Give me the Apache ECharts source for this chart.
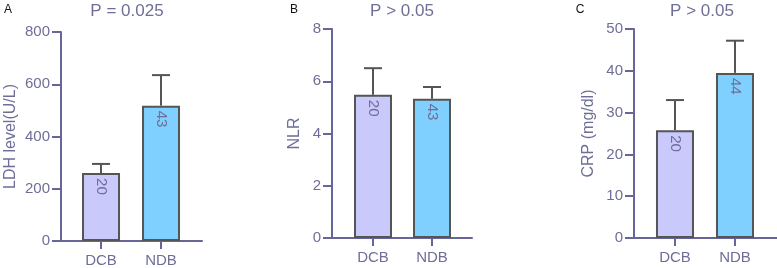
<!DOCTYPE html>
<html>
<head>
<meta charset="utf-8">
<script src="https://cdn.jsdelivr.net/npm/echarts@6/dist/echarts.min.js"></script>
<style>
  html, body { margin: 0; padding: 0; background: #fff; }
  #chart { width: 777px; height: 268px; }
</style>
</head>
<body>
<div id="chart"></div>
<script>
// groups on every panel
const categories = ['DCB', 'NDB'];

// panel A: LDH
const ldhMean = [260, 518];
const ldhErr = [35, 117];
const ldhN = [20, 43];
const ldhTicks = [0, 200, 400, 600, 800];

// panel B: NLR
const nlrMean = [5.48, 5.33];
const nlrErr = [1.02, 0.45];
const nlrN = [20, 43];
const nlrTicks = [0, 2, 4, 6, 8];

// panel C: CRP
const crpMean = [25.8, 39.5];
const crpErr = [7.2, 7.7];
const crpN = [20, 44];
const crpTicks = [0, 10, 20, 30, 40, 50];

const pTexts = ['P = 0.025', 'P > 0.05', 'P > 0.05'];
const letters = ['A', 'B', 'C'];
const yNames = ['LDH level(U/L)', 'NLR', 'CRP (mg/dl)'];

const textColor = '#6e6e98';
const axisColor = '#66669a';
const edgeColor = '#555555';
const barColors = ['#c9c9fb', '#80d0ff'];
const font = 'Liberation Sans, Arial, sans-serif';

// layout per panel
const panels = [
  { mean: ldhMean, err: ldhErr, n: ldhN, ticks: ldhTicks, left: 61, top: 32, width: 141, xmin: 0.333, xmax: 2.683, gap: 42, titleX: 127 },
  { mean: nlrMean, err: nlrErr, n: nlrN, ticks: nlrTicks, left: 332, top: 29, width: 140, xmin: 0.305, xmax: 2.678, gap: 29, titleX: 402 },
  { mean: crpMean, err: crpErr, n: crpN, ticks: crpTicks, left: 634, top: 29, width: 143, xmin: 0.317, xmax: 2.7, gap: 37, titleX: 702 }
];
const letterX = [8, 294, 580];

const grid = [], xAxis = [], yAxis = [], series = [], title = [];

panels.forEach((p, i) => {
  const ymax = p.ticks[p.ticks.length - 1];
  grid.push({ left: p.left, top: p.top, width: p.width, height: 209, containLabel: false });

  xAxis.push({
    type: 'value', gridIndex: i, min: p.xmin, max: p.xmax,
    splitLine: { show: false },
    axisLine: { show: true, onZero: false, lineStyle: { color: axisColor, width: 2 } },
    axisTick: { show: true, customValues: [1, 2], length: 8, lineStyle: { color: axisColor, width: 2 } },
    axisLabel: {
      show: true, customValues: [1, 2], formatter: v => categories[Math.round(v) - 1],
      color: textColor, fontSize: 15, fontFamily: font, margin: 12
    }
  });

  yAxis.push({
    type: 'value', gridIndex: i, min: 0, max: ymax, interval: p.ticks[1],
    name: yNames[i], nameLocation: 'middle', nameGap: p.gap,
    nameTextStyle: { color: textColor, fontSize: 16, fontFamily: font },
    splitLine: { show: false },
    axisLine: { show: true, onZero: false, lineStyle: { color: axisColor, width: 2 } },
    axisTick: { show: true, length: 9, lineStyle: { color: axisColor, width: 2 } },
    axisLabel: { show: true, color: textColor, fontSize: 15, fontFamily: font, margin: 11 }
  });

  series.push({
    type: 'bar', xAxisIndex: i, yAxisIndex: i, barWidth: 38,
    data: p.mean.map((v, k) => ({
      value: [k + 1, v],
      itemStyle: { color: barColors[k], borderColor: edgeColor, borderWidth: 2 },
      label: { formatter: String(p.n[k]) }
    })),
    label: {
      show: true, position: 'insideTop', distance: 5, rotate: -90,
      align: 'left', verticalAlign: 'middle',
      color: textColor, fontSize: 15, fontFamily: font
    },
    z: 3
  });

  // error bars (mean -> mean + err, with a cap)
  series.push({
    type: 'custom', xAxisIndex: i, yAxisIndex: i, z: 2,
    data: p.mean.map((v, k) => [k + 1, v, v + p.err[k]]),
    renderItem: (params, api) => {
      const base = api.coord([api.value(0), api.value(1)]);
      const top = api.coord([api.value(0), api.value(2)]);
      const style = { stroke: edgeColor, lineWidth: 2 };
      return {
        type: 'group',
        children: [
          { type: 'line', shape: { x1: base[0], y1: base[1], x2: top[0], y2: top[1] }, style },
          { type: 'line', shape: { x1: top[0] - 9, y1: top[1], x2: top[0] + 9, y2: top[1] }, style }
        ]
      };
    }
  });

  title.push({
    text: pTexts[i], left: p.titleX, top: 3, textAlign: 'center', padding: 0,
    textStyle: { color: textColor, fontSize: 17, fontWeight: 'normal', fontFamily: font }
  });
  title.push({
    text: letters[i], left: letterX[i], top: 4, textAlign: 'center', padding: 0,
    textStyle: { color: '#111', fontSize: 12, fontWeight: 'normal', fontFamily: font }
  });
});

const chart = echarts.init(document.getElementById('chart'), null, { renderer: 'canvas' });
chart.setOption({
  animation: false,
  backgroundColor: '#ffffff',
  title, grid, xAxis, yAxis, series
});
</script>
</body>
</html>
